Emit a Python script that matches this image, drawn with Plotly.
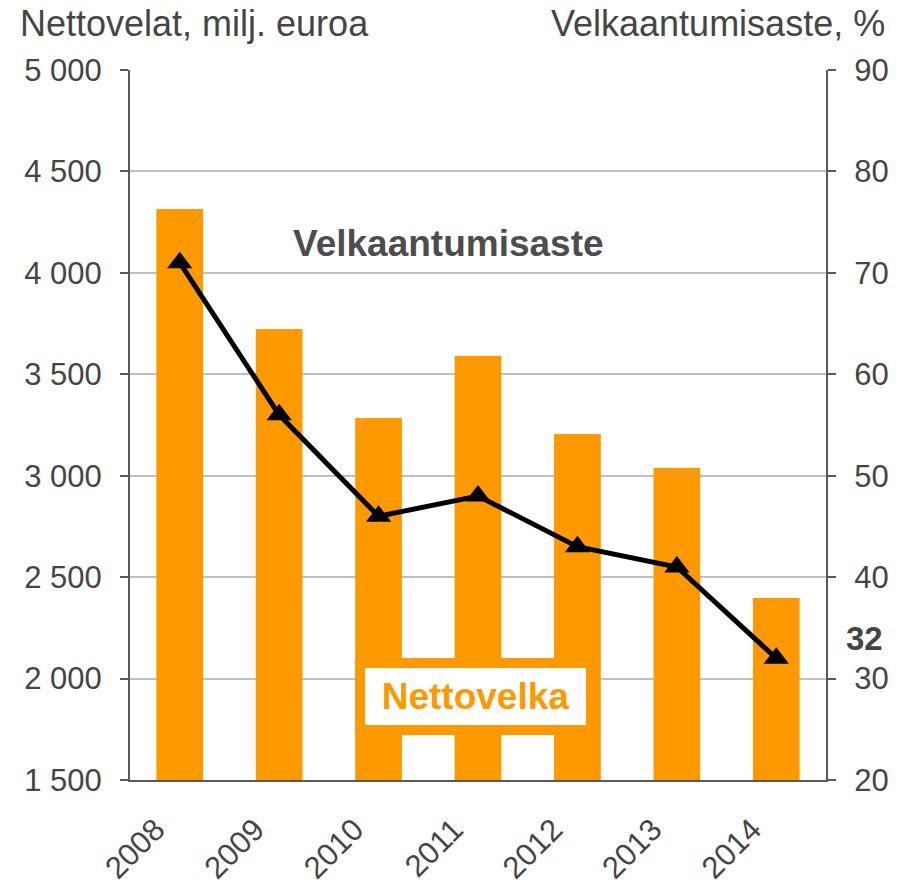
import plotly.graph_objects as go

years = ["2008", "2009", "2010", "2011", "2012", "2013", "2014"]
nettovelka = [4315, 3723, 3284, 3590, 3206, 3038, 2397]
velkaantumisaste = [71, 56, 46, 48, 43, 41, 32]

orange = "#FF9900"
txt = "#454545"
axis_col = "#595959"
font_fam = "Liberation Sans, Arial, sans-serif"

xpos = list(range(len(years)))

fig = go.Figure()
fig.add_trace(go.Bar(x=xpos, y=nettovelka, marker=dict(color=orange, line=dict(width=0)),
                     width=0.47, name="Nettovelka", yaxis="y", xaxis="x"))
fig.add_trace(go.Scatter(x=xpos, y=velkaantumisaste, mode="lines+markers", yaxis="y2", xaxis="x",
                         line=dict(color="black", width=5),
                         marker=dict(symbol="triangle-up", size=22, color="black"),
                         name="Velkaantumisaste"))

fig.update_layout(
    width=902, height=884,
    margin=dict(l=130, r=76, t=70, b=104),
    paper_bgcolor="white", plot_bgcolor="white",
    showlegend=False,
    separators=", ",
    font=dict(family=font_fam, size=31, color=txt),
    xaxis=dict(range=[-0.5, 6.5], tickmode="array", tickvals=xpos, ticktext=years,
               tickangle=-45, ticks="", showline=True, linecolor=axis_col, linewidth=2,
               showgrid=False, zeroline=False, tickfont=dict(size=31, color=txt),
               ticklabelshift=-24, ticklabelstandoff=17, automargin=False),
    xaxis2=dict(range=[-0.5, 6.5], overlaying="x", side="bottom", tickmode="array",
                tickvals=[-0.5, 3.5], ticks="outside", ticklen=9, tickwidth=2,
                tickcolor=axis_col, showticklabels=False, showgrid=False,
                showline=False, zeroline=False, automargin=False),
    yaxis=dict(range=[1500, 5000], dtick=500, tickformat=",d", ticks="outside", ticklen=8,
               tickwidth=2, tickcolor=axis_col, showline=True, linecolor=axis_col,
               linewidth=2, showgrid=True, gridcolor="#C0C0C0", gridwidth=2,
               zeroline=False, tickfont=dict(size=31, color=txt), ticklabelstandoff=12,
               automargin=False),
    yaxis2=dict(range=[20, 90], dtick=10, overlaying="y", side="right", ticks="outside",
                ticklen=8, tickwidth=2, tickcolor=axis_col, showline=True,
                linecolor=axis_col, linewidth=2, showgrid=False, zeroline=False,
                tickfont=dict(size=31, color=txt), ticklabelstandoff=12, automargin=False),
    annotations=[
        dict(text="Nettovelat, milj. euroa", xref="paper", yref="paper", x=-0.161, y=1.066,
             xanchor="left", yanchor="middle", showarrow=False, font=dict(size=36, color=txt)),
        dict(text="Velkaantumisaste, %", xref="paper", yref="paper", x=1.087, y=1.066,
             xanchor="right", yanchor="middle", showarrow=False, font=dict(size=36, color=txt)),
        dict(text="<b>Velkaantumisaste</b>", xref="paper", yref="paper", x=0.457, y=0.756,
             xanchor="center", yanchor="middle", showarrow=False, font=dict(size=37, color="#4D4D4D")),
        dict(text="<b>Nettovelka</b>", xref="paper", yref="paper", x=0.497, y=0.117,
             xanchor="center", yanchor="middle", showarrow=False,
             font=dict(size=37, color=orange), bgcolor="white", bordercolor=orange,
             borderwidth=10, borderpad=8, width=205, height=41),
        dict(text="<b>32</b>", xref="paper", yref="paper", x=1.056, y=0.2,
             xanchor="center", yanchor="middle", showarrow=False, font=dict(size=33, color=txt)),
    ],
)

fig.write_html("out.html", config={"displayModeBar": False},
               post_script="document.body.style.margin='0px';")
